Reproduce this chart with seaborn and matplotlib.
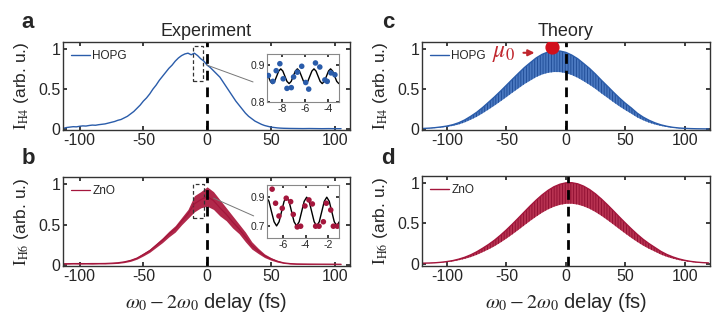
import numpy as np
import pandas as pd
import matplotlib
matplotlib.use("Agg")
import matplotlib.pyplot as plt
import seaborn as sns

# ---------------- data ----------------
BLUE = "#2a5caa"
RED = "#a4163c"

# Experiment HOPG (delay fs, intensity)
hopg_exp_x = [-112.5, -110, -107.5, -105, -102.5, -100, -97.5, -95, -92.5, -90, -87.5, -85, -82.5, -80,
              -77.5, -75, -72.5, -70, -67.5, -65, -62.5, -60, -57.5, -55, -52.5, -50, -47.5, -45, -42.5,
              -40, -37.5, -35, -32.5, -30, -27.5, -25, -22.5, -20, -17.5, -15, -12.5, -10, -7.5, -5, -2.5,
              0, 2.5, 5, 7.5, 10, 12.5, 15, 17.5, 20, 22.5, 25, 27.5, 30, 32.5, 35, 37.5, 40, 42.5, 45,
              47.5, 50, 52.5, 55, 57.5, 60, 65, 70, 75, 80, 85, 90, 95, 100, 105]
hopg_exp_y = [0.01, 0.02, 0.025, 0.03, 0.028, 0.035, 0.04, 0.038, 0.045, 0.05, 0.048, 0.055, 0.06, 0.065,
              0.075, 0.085, 0.095, 0.11, 0.12, 0.14, 0.16, 0.19, 0.22, 0.26, 0.30, 0.35, 0.39, 0.44, 0.50,
              0.55, 0.61, 0.66, 0.71, 0.76, 0.80, 0.85, 0.89, 0.92, 0.94, 0.95, 0.93, 0.95, 0.92, 0.88, 0.85,
              0.80, 0.77, 0.73, 0.69, 0.65, 0.59, 0.53, 0.47, 0.41, 0.35, 0.30, 0.25, 0.20, 0.16, 0.13, 0.10,
              0.08, 0.06, 0.045, 0.035, 0.025, 0.02, 0.015, 0.012, 0.01, 0.008, 0.007, 0.006, 0.007, 0.006,
              0.005, 0.006, 0.005, 0.005]

# Experiment ZnO: oscillation band (lower / upper)
zno_exp_x = [-112, -105, -100, -95, -90, -85, -80, -75, -70, -65, -60, -55, -50, -45, -40, -35, -30, -25,
             -20, -15, -10, -5, 0, 5, 10, 15, 20, 25, 30, 35, 40, 45, 50, 55, 60, 65, 70, 80, 90, 100, 105]
zno_exp_lo = [0.012, 0.015, 0.013, 0.015, 0.013, 0.016, 0.015, 0.018, 0.022, 0.032, 0.048, 0.075, 0.115, 0.16,
              0.22, 0.28, 0.35, 0.41, 0.50, 0.58, 0.66, 0.71, 0.73, 0.69, 0.61, 0.55, 0.46, 0.39, 0.29, 0.20,
              0.145, 0.095, 0.062, 0.038, 0.022, 0.014, 0.01, 0.008, 0.008, 0.007, 0.007]
zno_exp_hi = [0.024, 0.025, 0.028, 0.024, 0.028, 0.025, 0.028, 0.032, 0.038, 0.05, 0.07, 0.10, 0.15, 0.20,
              0.27, 0.34, 0.42, 0.49, 0.59, 0.69, 0.86, 0.91, 0.97, 0.91, 0.81, 0.71, 0.61, 0.51, 0.41, 0.29,
              0.21, 0.14, 0.095, 0.06, 0.036, 0.026, 0.022, 0.02, 0.018, 0.018, 0.016]

# Theory envelopes (upper / lower of fast oscillation)
theo_x = list(range(-120, 125, 5))
hopg_th_hi = [0.008, 0.012, 0.018, 0.027, 0.038, 0.055, 0.08, 0.115, 0.16, 0.21, 0.27, 0.336, 0.403,
              0.474, 0.548, 0.623, 0.696, 0.768, 0.83, 0.89, 0.935, 0.965, 0.978, 0.977, 0.96, 0.926,
              0.88, 0.82, 0.758, 0.687, 0.61, 0.537, 0.462, 0.39, 0.324, 0.265, 0.2, 0.15, 0.11, 0.078,
              0.053, 0.035, 0.022, 0.014, 0.009, 0.006, 0.004, 0.003, 0.002]
hopg_th_lo = [0.006, 0.009, 0.013, 0.02, 0.028, 0.04, 0.058, 0.084, 0.117, 0.153, 0.197, 0.245, 0.294,
              0.346, 0.40, 0.455, 0.508, 0.561, 0.606, 0.65, 0.683, 0.704, 0.714, 0.713, 0.70, 0.676,
              0.642, 0.599, 0.553, 0.502, 0.445, 0.392, 0.337, 0.285, 0.237, 0.193, 0.146, 0.11, 0.08,
              0.057, 0.039, 0.026, 0.016, 0.01, 0.007, 0.004, 0.003, 0.002, 0.001]
zno_th_hi = [0.005, 0.007, 0.01, 0.016, 0.025, 0.037, 0.055, 0.078, 0.108, 0.145, 0.189, 0.236, 0.289,
             0.35, 0.416, 0.487, 0.561, 0.637, 0.712, 0.783, 0.848, 0.904, 0.949, 0.98, 0.997, 0.999,
             0.985, 0.956, 0.914, 0.86, 0.796, 0.726, 0.652, 0.576, 0.502, 0.43, 0.362, 0.30, 0.246,
             0.198, 0.15, 0.112, 0.082, 0.058, 0.04, 0.027, 0.018, 0.012, 0.008]
zno_th_lo = [0.004, 0.005, 0.007, 0.012, 0.019, 0.027, 0.041, 0.058, 0.08, 0.107, 0.14, 0.175, 0.214,
             0.259, 0.308, 0.36, 0.415, 0.471, 0.527, 0.579, 0.628, 0.669, 0.702, 0.725, 0.738, 0.739,
             0.729, 0.707, 0.676, 0.636, 0.589, 0.537, 0.482, 0.426, 0.371, 0.318, 0.268, 0.222, 0.182,
             0.147, 0.111, 0.083, 0.061, 0.043, 0.03, 0.02, 0.013, 0.009, 0.006]

# Inset data: measured points and fitted curve
hopg_pts_x = [-9.18, -8.79, -8.5, -8.18, -7.89, -7.56, -7.18, -6.98, -6.65, -6.27, -5.92, -5.66, -5.07,
              -4.69, -4.25, -4.04, -3.72, -3.37]
hopg_pts_y = [0.872, 0.856, 0.885, 0.904, 0.863, 0.837, 0.839, 0.868, 0.881, 0.897, 0.853, 0.835, 0.906,
              0.895, 0.86, 0.856, 0.879, 0.874]
hopg_fit_x = [-9.19, -9.01, -8.83, -8.64, -8.46, -8.28, -8.10, -7.92, -7.74, -7.56, -7.37, -7.19, -7.01,
              -6.83, -6.65, -6.47, -6.29, -6.11, -5.93, -5.74, -5.56, -5.38, -5.20, -5.02, -4.84, -4.66,
              -4.48, -4.29, -4.11, -3.93, -3.75, -3.57, -3.39, -3.21, -3.03]
hopg_fit_y = [0.87, 0.856, 0.85, 0.856, 0.87, 0.884, 0.89, 0.884, 0.87, 0.856, 0.85, 0.856, 0.87, 0.884,
              0.89, 0.884, 0.87, 0.856, 0.85, 0.856, 0.87, 0.884, 0.89, 0.884, 0.87, 0.856, 0.85, 0.856,
              0.87, 0.884, 0.89, 0.884, 0.87, 0.856, 0.85]
zno_pts_x = [-6.95, -6.65, -6.35, -6.06, -5.71, -5.32, -5.09, -4.74, -4.44, -4.06, -3.71, -3.41, -3.12,
             -2.82, -2.44, -2.18, -1.79, -1.56, -1.21]
zno_pts_y = [0.956, 0.858, 0.769, 0.823, 0.893, 0.869, 0.78, 0.693, 0.698, 0.839, 0.881, 0.853, 0.698,
             0.698, 0.729, 0.858, 0.811, 0.698, 0.698]
zno_fit_x = [-7.45, -7.23, -7.01, -6.78, -6.56, -6.34, -6.12, -5.90, -5.68, -5.46, -5.24, -5.02, -4.80,
             -4.57, -4.35, -4.13, -3.91, -3.69, -3.47, -3.25, -3.03, -2.80, -2.58, -2.36, -2.14, -1.92,
             -1.70, -1.48, -1.26, -1.04]
zno_fit_y = [0.90, 0.871, 0.80, 0.729, 0.70, 0.729, 0.80, 0.871, 0.90, 0.871, 0.80, 0.729, 0.70, 0.729,
             0.80, 0.871, 0.90, 0.871, 0.80, 0.729, 0.70, 0.729, 0.80, 0.871, 0.90, 0.871, 0.80, 0.729,
             0.70, 0.729]

x_ticks = [-100, -50, 0, 50, 100]
y_ticks = [0, 0.5, 1]
y_ticklabels = ["0", "0.5", "1"]

# ---------------- style ----------------
sns.set_theme(style="ticks")
plt.rcParams.update({
    "font.family": ["Liberation Sans", "DejaVu Sans"],
    "mathtext.fontset": "stix",
    "axes.unicode_minus": False,
    "xtick.direction": "in",
    "ytick.direction": "in",
    "xtick.top": True,
    "ytick.right": True,
    "xtick.major.size": 3,
    "ytick.major.size": 3,
    "axes.edgecolor": "#333333",
    "axes.linewidth": 1.0,
    "hatch.linewidth": 0.6,
})

fig = plt.figure(figsize=(7.14, 3.28), dpi=100)
ax_a = fig.add_axes([0.0882, 0.604, 0.402, 0.268])
ax_b = fig.add_axes([0.0882, 0.189, 0.402, 0.271])
ax_c = fig.add_axes([0.591, 0.604, 0.403, 0.268])
ax_d = fig.add_axes([0.591, 0.189, 0.403, 0.274])


def style_main(ax, xlim, ylab):
    ax.set_xlim(*xlim)
    ax.set_ylim(-0.01, 1.09)
    ax.set_xticks(x_ticks)
    ax.set_yticks(y_ticks)
    ax.set_yticklabels(y_ticklabels)
    ax.tick_params(labelsize=11.5, pad=2)
    ax.set_ylabel(ylab, fontsize=12.5, labelpad=5)
    ax.set_xlabel("")


ylab4 = r"$\mathrm{I}_{\mathrm{H4}}$ (arb. u.)"
ylab6 = r"$\mathrm{I}_{\mathrm{H6}}$ (arb. u.)"
xlab = r"$\omega_0 - 2\omega_0$ delay (fs)"

# ---- a: experiment HOPG
df_a = pd.DataFrame({"x": hopg_exp_x, "y": hopg_exp_y})
sns.lineplot(data=df_a, x="x", y="y", ax=ax_a, color=BLUE, lw=1.0, label="HOPG")
style_main(ax_a, (-113, 112), ylab4)
ax_a.axvline(0, color="black", lw=2, ls=(0, (3.5, 2.5)))
ax_a.add_patch(plt.Rectangle((-11, 0.6), 8, 0.44, fill=False, ls=(0, (3, 2)), lw=0.9, ec="#333333"))
ax_a.plot([0, 36], [0.8, 0.59], color="#777777", lw=0.7)
ax_a.set_title("Experiment", fontsize=13, pad=4)

# ---- b: experiment ZnO
ax_b.fill_between(zno_exp_x, zno_exp_lo, zno_exp_hi, color="#b0284a", lw=0)
df_b = pd.DataFrame({"x": zno_exp_x, "y": [(l + h) / 2 for l, h in zip(zno_exp_lo, zno_exp_hi)]})
sns.lineplot(data=df_b, x="x", y="y", ax=ax_b, color=RED, lw=0.9, label="ZnO")
style_main(ax_b, (-113, 112), ylab6)
ax_b.axvline(0, color="black", lw=2, ls=(0, (3.5, 2.5)))
ax_b.add_patch(plt.Rectangle((-11, 0.59), 8.5, 0.42, fill=False, ls=(0, (3, 2)), lw=0.9, ec="#333333"))
ax_b.plot([5, 36.5], [0.83, 0.61], color="#777777", lw=0.7)
ax_b.set_xlabel(xlab, fontsize=14.5, labelpad=5)

# ---- c: theory HOPG
ax_c.fill_between(theo_x, hopg_th_lo, hopg_th_hi, facecolor="#4a78c0", edgecolor="#1d4a94",
                  hatch="||||||", lw=0)
df_c = pd.DataFrame({"x": theo_x, "y": hopg_th_hi})
sns.lineplot(data=df_c, x="x", y="y", ax=ax_c, color=BLUE, lw=1.0, label="HOPG")
style_main(ax_c, (-121, 121), ylab4)
ax_c.axvline(0, color="black", lw=2, ls=(0, (3.5, 2.5)))
ax_c.scatter([-11.8], [1.025], s=85, color="#d10f1b", zorder=5)
ax_c.annotate("", xy=(-24, 0.955), xytext=(-38, 0.955),
              arrowprops=dict(arrowstyle="-|>", color="#c0262d", lw=1.5, mutation_scale=9))
ax_c.text(-52, 0.955, r"$\mu_0$", color="#c0262d", fontsize=17, ha="center", va="center")
ax_c.set_title("Theory", fontsize=13, pad=4)

# ---- d: theory ZnO
ax_d.fill_between(theo_x, zno_th_lo, zno_th_hi, facecolor="#b73251", edgecolor="#8e0d30",
                  hatch="||||||", lw=0)
df_d = pd.DataFrame({"x": theo_x, "y": zno_th_hi})
sns.lineplot(data=df_d, x="x", y="y", ax=ax_d, color=RED, lw=1.0, label="ZnO")
style_main(ax_d, (-121, 121), ylab6)
ax_d.set_ylim(-0.03, 1.08)
ax_d.axvline(1.5, color="black", lw=2, ls=(0, (3.5, 2.5)))
ax_d.set_xlabel(xlab, fontsize=14.5, labelpad=5)

for ax in (ax_a, ax_b, ax_c, ax_d):
    leg = ax.legend(loc="upper left", frameon=False, fontsize=8.5, handlelength=1.6,
                    handletextpad=0.2, borderaxespad=0.3)

# ---- insets
ins_a = fig.add_axes([0.374, 0.689, 0.101, 0.146])
sns.lineplot(x=hopg_fit_x, y=hopg_fit_y, ax=ins_a, color="black", lw=1.0)
sns.scatterplot(x=hopg_pts_x, y=hopg_pts_y, ax=ins_a, color=BLUE, s=16, edgecolor="none", zorder=3)
ins_a.set_xlim(-9.3, -3.0)
ins_a.set_ylim(0.8, 0.93)
ins_a.set_xticks([-8, -6, -4])
ins_a.set_yticks([0.8, 0.9])
ins_a.set_yticklabels(["0.8", "0.9"])

ins_b = fig.add_axes([0.374, 0.274, 0.101, 0.162])
sns.lineplot(x=zno_fit_x, y=zno_fit_y, ax=ins_b, color="black", lw=1.0)
sns.scatterplot(x=zno_pts_x, y=zno_pts_y, ax=ins_b, color=RED, s=16, edgecolor="none", zorder=3)
ins_b.set_xlim(-7.4, -1.05)
ins_b.set_ylim(0.615, 0.985)
ins_b.set_xticks([-6, -4, -2])
ins_b.set_yticks([0.7, 0.9])
ins_b.set_yticklabels(["0.7", "0.9"])

for ins in (ins_a, ins_b):
    ins.tick_params(labelsize=7.5, pad=1.5, length=2)
    for s in ins.spines.values():
        s.set_color("#888888")
        s.set_linewidth(0.8)

# panel letters
for lbl, (px, py) in {"a": (28, 23), "b": (28, 158), "c": (388, 23), "d": (388, 158)}.items():
    fig.text(px / 714, 1 - py / 328, lbl, fontsize=16, fontweight="bold", ha="center", va="center")

fig.savefig("out.png", dpi=100)
